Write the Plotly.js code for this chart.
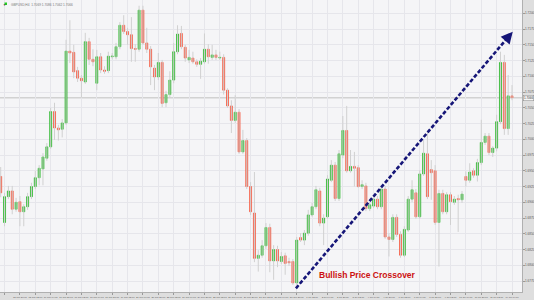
<!DOCTYPE html>
<html><head><meta charset="utf-8">
<script src="https://cdn.plot.ly/plotly-3.0.1.min.js"></script>
<style>html,body{margin:0;padding:0;background:#dedede}#chart{width:534px;height:300px}</style>
</head><body><div id="chart"></div>
<script>
const symbolTitle = "GBPUSD,H4  1.7069 1.7086 1.7062 1.7066";

const openP = [
1.6941,1.6868,1.6909,1.6918,1.6889,1.6901,1.6885,1.6893,1.6909,1.6925,
1.6939,1.6953,1.6970,1.6988,1.7044,1.7018,1.7016,1.7026,1.7140,1.7138,
1.7109,1.7097,1.7091,1.7155,1.7127,1.7089,1.7131,1.7110,1.7109,1.7131,
1.7131,1.7147,1.7181,1.7171,1.7166,1.7144,1.7143,1.7205,1.7153,1.7143,
1.7113,1.7099,1.7122,1.7058,1.7071,1.7094,1.7139,1.7168,1.7146,1.7126,
1.7129,1.7123,1.7119,1.7123,1.7143,1.7130,1.7134,1.7129,1.7130,1.7078,
1.7053,1.7030,1.7043,1.6980,1.6998,1.6925,1.6883,1.6811,1.6816,1.6831,
1.6860,1.6807,1.6825,1.6806,1.6815,1.6806,1.6806,1.6772,1.6844,1.6840,
1.6851,1.6880,1.6893,1.6918,1.6867,1.6877,1.6935,1.6959,1.6906,1.6975,
1.7014,1.6950,1.6957,1.6955,1.6925,1.6926,1.6890,1.6894,1.6905,1.6893,
1.6921,1.6845,1.6841,1.6876,1.6849,1.6816,1.6856,1.6905,1.6915,1.6877,
1.6945,1.6977,1.6952,1.6950,1.6868,1.6914,1.6885,1.6912,1.6900,1.6906,
1.6904,1.6941,1.6935,1.6950,1.6943,1.6963,1.6995,1.7005,1.6979,1.6986,
1.7028,1.7122,1.7017,1.7069];

const highP = [
1.6956,1.6915,1.6926,1.6926,1.6907,1.6910,1.6897,1.6915,1.6931,1.6950,
1.6959,1.6978,1.6994,1.7050,1.7058,1.7023,1.7032,1.7158,1.7189,1.7150,
1.7115,1.7102,1.7169,1.7161,1.7143,1.7142,1.7137,1.7116,1.7139,1.7137,
1.7153,1.7186,1.7197,1.7177,1.7194,1.7151,1.7212,1.7212,1.7177,1.7148,
1.7118,1.7137,1.7126,1.7077,1.7108,1.7153,1.7181,1.7180,1.7150,1.7142,
1.7139,1.7127,1.7129,1.7168,1.7151,1.7150,1.7142,1.7139,1.7135,1.7081,
1.7062,1.7070,1.7048,1.7015,1.7002,1.6932,1.6948,1.6824,1.6840,1.6867,
1.6866,1.6832,1.6831,1.6821,1.6820,1.6812,1.6810,1.6845,1.6851,1.6856,
1.6888,1.6899,1.6926,1.6923,1.6881,1.6943,1.6967,1.6964,1.6983,1.7037,
1.7053,1.6983,1.6980,1.6959,1.6935,1.6931,1.6900,1.6910,1.6910,1.6926,
1.6926,1.6851,1.6881,1.6881,1.6854,1.6862,1.6910,1.6935,1.6921,1.6951,
1.6999,1.7012,1.6967,1.6959,1.6920,1.6920,1.6916,1.6916,1.6910,1.6912,
1.6918,1.6949,1.6962,1.6954,1.6969,1.7031,1.7010,1.7010,1.6989,1.7039,
1.7139,1.7134,1.7102,1.7086];

const lowP = [
1.6908,1.6862,1.6905,1.6881,1.6885,1.6862,1.6862,1.6888,1.6905,1.6921,
1.6927,1.6927,1.6966,1.6985,1.6999,1.6998,1.7003,1.7023,1.7121,1.7097,
1.7091,1.7066,1.7088,1.7118,1.7116,1.7078,1.7105,1.7104,1.7105,1.7127,
1.7127,1.7143,1.7167,1.7150,1.7123,1.7123,1.7139,1.7150,1.7137,1.7086,
1.7078,1.7094,1.7051,1.7051,1.7067,1.7089,1.7135,1.7143,1.7123,1.7121,
1.7120,1.7115,1.7096,1.7120,1.7120,1.7126,1.7126,1.7126,1.7071,1.7050,
1.7010,1.7026,1.6977,1.6977,1.6921,1.6880,1.6805,1.6790,1.6812,1.6826,
1.6789,1.6777,1.6797,1.6802,1.6785,1.6799,1.6769,1.6769,1.6837,1.6832,
1.6847,1.6877,1.6889,1.6862,1.6832,1.6874,1.6932,1.6902,1.6902,1.6970,
1.6947,1.6947,1.6925,1.6923,1.6921,1.6886,1.6886,1.6891,1.6889,1.6889,
1.6842,1.6814,1.6837,1.6845,1.6812,1.6813,1.6853,1.6900,1.6874,1.6874,
1.6942,1.6905,1.6904,1.6864,1.6798,1.6881,1.6881,1.6864,1.6896,1.6853,
1.6899,1.6925,1.6931,1.6939,1.6933,1.6959,1.6991,1.6975,1.6972,1.6981,
1.7024,1.7007,1.7007,1.7062];

const closeP = [
1.6915,1.6909,1.6918,1.6889,1.6900,1.6885,1.6893,1.6909,1.6925,1.6939,
1.6954,1.6972,1.6988,1.7044,1.7018,1.7015,1.7026,1.7140,1.7137,1.7107,
1.7097,1.7093,1.7155,1.7127,1.7123,1.7131,1.7110,1.7108,1.7132,1.7132,
1.7147,1.7181,1.7171,1.7166,1.7144,1.7143,1.7205,1.7153,1.7143,1.7115,
1.7099,1.7122,1.7057,1.7071,1.7094,1.7139,1.7167,1.7147,1.7129,1.7130,
1.7123,1.7119,1.7124,1.7143,1.7131,1.7134,1.7130,1.7130,1.7078,1.7053,
1.7030,1.7043,1.6980,1.6998,1.6925,1.6885,1.6811,1.6816,1.6831,1.6860,
1.6807,1.6825,1.6807,1.6814,1.6803,1.6804,1.6772,1.6840,1.6840,1.6851,
1.6880,1.6893,1.6920,1.6867,1.6875,1.6937,1.6959,1.6906,1.6977,1.7014,
1.6950,1.6957,1.6954,1.6925,1.6928,1.6890,1.6896,1.6905,1.6893,1.6921,
1.6845,1.6841,1.6876,1.6849,1.6816,1.6857,1.6905,1.6920,1.6877,1.6945,
1.6978,1.6909,1.6947,1.6868,1.6914,1.6885,1.6912,1.6901,1.6905,1.6904,
1.6913,1.6935,1.6948,1.6943,1.6963,1.6995,1.7005,1.6979,1.6986,1.7028,
1.7122,1.7017,1.7069,1.7066];

const xTickIdx = [1,5,9,13,17,21,25,29,33,37,41,45,49,53,57,61,65,69,73,77,81,85,89,93,97,101,105,109,113,117,121,125,129,133];
const xTickLabels = ["12 Jun 2014","12 Jun 20:00","13 Jun 12:00","16 Jun 04:00","16 Jun 20:00","17 Jun 12:00","18 Jun 04:00","18 Jun 20:00","19 Jun 12:00","20 Jun 04:00","20 Jun 20:00","23 Jun 12:00","24 Jun 04:00","24 Jun 20:00","25 Jun 12:00","26 Jun 04:00","26 Jun 20:00","27 Jun 12:00","30 Jun 04:00","30 Jun 20:00","1 Jul 12:00","2 Jul 04:00","2 Jul 20:00","3 Jul 12:00","4 Jul 04:00","4 Jul 20:00","7 Jul 12:00","8 Jul 04:00","8 Jul 20:00","9 Jul 12:00","10 Jul 04:00","10 Jul 20:00","11 Jul 12:00","14 Jul 04:00"];

const annotationText = "Bullish Price Crossover";
const arrowStart = {x: 76.8, y: 1.67635};
const arrowTip = {x: 133.2, y: 1.71708};
const arrowTail = {x: 131.5, y: 1.71587};

const idx = openP.map((_, i) => i);
const wickX = [], wickY = [];
idx.forEach(i => { wickX.push(i, i, null); wickY.push(lowP[i], highP[i], null); });
const bodyHigh = idx.map(i => Math.max(openP[i], closeP[i]));
const bodyLow = idx.map(i => Math.min(openP[i], closeP[i]));
const lastClose = closeP[closeP.length - 1];

const GREEN = '#2cb82c', RED = '#f55a42';

const traces = [
  {type: 'scatter', mode: 'lines', x: wickX, y: wickY, line: {color: '#d0d0d0', width: 1}, hoverinfo: 'skip', connectgaps: false},
  {type: 'candlestick', x: idx, open: openP, high: bodyHigh, low: bodyLow, close: closeP, whiskerwidth: 0,
   increasing: {line: {color: GREEN, width: 0.7}, fillcolor: GREEN},
   decreasing: {line: {color: RED, width: 0.7}, fillcolor: RED}, hoverinfo: 'skip'}
];

const layout = {
  width: 534, height: 300,
  margin: {l: 0, r: 12, t: 0, b: 8, pad: 0},
  paper_bgcolor: '#dedede', plot_bgcolor: '#f5f5f7',
  showlegend: false, hovermode: false, boxgap: 0.25,
  font: {family: 'Arial, "Liberation Sans", sans-serif'},
  xaxis: {type: 'linear', range: [-0.18, 135.6], tickmode: 'array', tickvals: xTickIdx, ticktext: xTickLabels,
    tickangle: 0, tickfont: {size: 2.4, color: '#555'}, showgrid: true, gridcolor: '#e6e6eb', gridwidth: 1,
    zeroline: false, showline: true, linecolor: '#b0b0b0', ticks: 'outside', ticklen: 2, tickcolor: '#999',
    rangeslider: {visible: false}, automargin: false, fixedrange: true},
  yaxis: {side: 'right', range: [1.675762, 1.722111], tick0: 1.72, dtick: 0.0025, tickformat: '.4f',
    tickfont: {size: 3, color: '#555'}, showgrid: true, gridcolor: '#e6e6eb', gridwidth: 1,
    zeroline: false, showline: true, linecolor: '#b0b0b0', ticks: 'outside', ticklen: 1.5, tickcolor: '#999',
    automargin: false, fixedrange: true},
  shapes: [
    {type: 'line', layer: 'between', xref: 'paper', x0: 0, x1: 1, yref: 'y', y0: lastClose, y1: lastClose,
     line: {color: '#d2d2d2', width: 1.5}},
    {type: 'line', xref: 'x', yref: 'y', x0: arrowStart.x, y0: arrowStart.y, x1: arrowTail.x, y1: arrowTail.y,
     line: {color: '#161678', width: 2.6, dash: '4px,2px'}},
    {type: 'rect', xref: 'paper', yref: 'paper', x0: 4.5/522, x1: 7/522, y0: 1 - 5/292, y1: 1 - 2.5/292,
     fillcolor: '#22cc22', line: {width: 0}}
  ],
  annotations: [
    {x: arrowTip.x, y: arrowTip.y, ax: arrowTail.x, ay: arrowTail.y, axref: 'x', ayref: 'y', xref: 'x', yref: 'y',
     text: '', showarrow: true, arrowhead: 2, arrowsize: 0.9, arrowwidth: 2.6, arrowcolor: '#161678'},
    {x: 82.2, y: 1.67846, xref: 'x', yref: 'y', xanchor: 'left', yanchor: 'middle', showarrow: false,
     text: '<b>' + annotationText + '</b>', font: {size: 8.5, color: '#cc1111', family: 'Arial, "Liberation Sans", sans-serif'}},
    {x: 8.5/522, y: 1 - 1.5/292, xref: 'paper', yref: 'paper', xanchor: 'left', yanchor: 'top', showarrow: false,
     text: symbolTitle, font: {size: 3.2, color: '#777'}},
    {x: 1.2/522, y: 1 - 1.5/292, xref: 'paper', yref: 'paper', xanchor: 'left', yanchor: 'top', showarrow: false,
     text: '▼', font: {size: 3, color: '#444'}},
    {x: 1, y: lastClose, xref: 'paper', yref: 'y', xanchor: 'left', yanchor: 'middle', xshift: 0.5, showarrow: false,
     text: lastClose.toFixed(4), font: {size: 3, color: '#333'}, bgcolor: '#f4f4f4', bordercolor: '#888',
     borderwidth: 0.5, borderpad: 0.4}
  ]
};

Plotly.newPlot('chart', traces, layout, {staticPlot: true, displayModeBar: false});
</script>
</body></html>
